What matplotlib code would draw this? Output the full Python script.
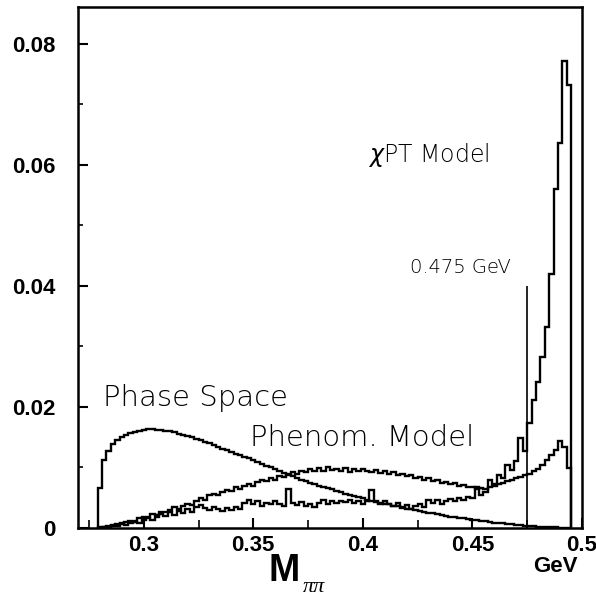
import numpy as np
import matplotlib
matplotlib.use("Agg")
import matplotlib.pyplot as plt
from matplotlib.ticker import MultipleLocator, FixedLocator, FixedFormatter

# ---------------- data (bin width 0.002 GeV, first bin starts at 0.279 GeV) ----------------
bin_start = 0.279
bin_width = 0.002

phase_space = [
    0.0066, 0.0112, 0.0128, 0.0138, 0.0145, 0.0150, 0.0154, 0.0157, 0.0159, 0.0161,
    0.0162, 0.0163, 0.0163, 0.0162, 0.0162, 0.0161, 0.0160, 0.0158, 0.0156, 0.0154,
    0.0152, 0.0150, 0.0147, 0.0145, 0.0142, 0.0140, 0.0137, 0.0134, 0.0131, 0.0129,
    0.0126, 0.0123, 0.0120, 0.0117, 0.0115, 0.0112, 0.0109, 0.0106, 0.0103, 0.0100,
    0.0097, 0.0094, 0.0091, 0.0088, 0.0086, 0.0083, 0.0080, 0.0078, 0.0075, 0.0073,
    0.0070, 0.0068, 0.0066, 0.0064, 0.0061, 0.0059, 0.0057, 0.0055, 0.0053, 0.0051,
    0.0049, 0.0047, 0.0045, 0.0044, 0.0042, 0.0040, 0.0039, 0.0037, 0.0036, 0.0034,
    0.0032, 0.0031, 0.0030, 0.0028, 0.0027, 0.0025, 0.0024, 0.0023, 0.0022, 0.0020,
    0.0019, 0.0018, 0.0017, 0.0016, 0.0015, 0.0014, 0.0013, 0.0012, 0.0011, 0.0010,
    0.0009, 0.0008, 0.0008, 0.0007, 0.0006, 0.0005, 0.0005, 0.0004, 0.0003, 0.0003,
    0.0002, 0.0002, 0.0001, 0.0001, 0.0001, 0.00005, 0.00003, 0.00001,
]

phenom_model = [
    0.0001, 0.0002, 0.0003, 0.0005, 0.0006, 0.0008, 0.0010, 0.0012, 0.0011, 0.0016,
    0.0019, 0.0018, 0.0023, 0.0021, 0.0027, 0.0026, 0.0030, 0.0034, 0.0031, 0.0037,
    0.0040, 0.0038, 0.0045, 0.0049, 0.0047, 0.0054, 0.0057, 0.0055, 0.0060, 0.0063,
    0.0061, 0.0067, 0.0065, 0.0070, 0.0073, 0.0069, 0.0076, 0.0079, 0.0077, 0.0083,
    0.0080, 0.0086, 0.0084, 0.0090, 0.0093, 0.0089, 0.0094, 0.0092, 0.0097, 0.0095,
    0.0099, 0.0094, 0.0101, 0.0096, 0.0098, 0.0095, 0.0099, 0.0093, 0.0097, 0.0094,
    0.0098, 0.0095, 0.0092, 0.0096, 0.0091, 0.0094, 0.0089, 0.0092, 0.0088, 0.0090,
    0.0086, 0.0088, 0.0083, 0.0085, 0.0080, 0.0082, 0.0077, 0.0079, 0.0074, 0.0076,
    0.0072, 0.0074, 0.0070, 0.0071, 0.0067, 0.0068, 0.0065, 0.0066, 0.0064, 0.0067,
    0.0070, 0.0072, 0.0075, 0.0077, 0.0080, 0.0082, 0.0085, 0.0087, 0.0090, 0.0094,
    0.0097, 0.0104, 0.0112, 0.0121, 0.0129, 0.0144, 0.0134, 0.0099,
]

chpt_model = [
    0.0000, 0.0001, 0.0002, 0.0003, 0.0004, 0.0006, 0.0005, 0.0008, 0.0010, 0.0009,
    0.0013, 0.0016, 0.0014, 0.0019, 0.0023, 0.0020, 0.0026, 0.0022, 0.0028, 0.0025,
    0.0031, 0.0027, 0.0034, 0.0038, 0.0033, 0.0029, 0.0035, 0.0031, 0.0028, 0.0033,
    0.0030, 0.0035, 0.0032, 0.0041, 0.0046, 0.0040, 0.0044, 0.0036, 0.0042, 0.0039,
    0.0045, 0.0040, 0.0037, 0.0064, 0.0041, 0.0038, 0.0043, 0.0036, 0.0040, 0.0035,
    0.0042, 0.0046, 0.0040, 0.0044, 0.0041, 0.0045, 0.0043, 0.0047, 0.0042, 0.0044,
    0.0040, 0.0045, 0.0062, 0.0043, 0.0039, 0.0044, 0.0040, 0.0037, 0.0042, 0.0033,
    0.0038, 0.0031, 0.0036, 0.0040, 0.0034, 0.0046, 0.0042, 0.0047, 0.0040, 0.0044,
    0.0048, 0.0045, 0.0050, 0.0047, 0.0052, 0.0049, 0.0068, 0.0055, 0.0060, 0.0080,
    0.0072, 0.0088, 0.0082, 0.0104, 0.0096, 0.0110, 0.0149, 0.0127, 0.0174, 0.0212,
    0.0241, 0.0283, 0.0332, 0.0420, 0.0560, 0.0636, 0.0772, 0.0732,
]

cut_value = 0.475
cut_height = 0.04

x_ticks = [0.3, 0.35, 0.4, 0.45, 0.5]
x_ticklabels = ["0.3", "0.35", "0.4", "0.45", "0.5"]
y_ticks = [0, 0.02, 0.04, 0.06, 0.08]
y_ticklabels = ["0", "0.02", "0.04", "0.06", "0.08"]

# ---------------- figure ----------------
fig = plt.figure(figsize=(5.96, 6.03), dpi=100)
ax = fig.add_axes([78 / 596, 75 / 603, 504 / 596, 521 / 603])

def edges_for(vals):
    return bin_start + bin_width * np.arange(len(vals) + 1)

lw = 1.7
ax.stairs(phase_space, edges_for(phase_space), baseline=0, color="black", lw=lw)
ax.stairs(phenom_model, edges_for(phenom_model), baseline=0, color="black", lw=lw)
ax.stairs(chpt_model, edges_for(chpt_model), baseline=0, color="black", lw=lw)
ax.vlines(cut_value, 0, cut_height, color="black", lw=1.2)

ax.set_xlim(0.27, 0.5)
ax.set_ylim(0, 0.0861)

for s in ax.spines.values():
    s.set_linewidth(1.8)

ax.xaxis.set_major_locator(FixedLocator(x_ticks))
ax.xaxis.set_major_formatter(FixedFormatter(x_ticklabels))
ax.xaxis.set_minor_locator(MultipleLocator(0.025))
ax.yaxis.set_major_locator(FixedLocator(y_ticks))
ax.yaxis.set_major_formatter(FixedFormatter(y_ticklabels))
ax.yaxis.set_minor_locator(MultipleLocator(0.01))

tick_font = dict(family="Liberation Sans", weight="bold", size=16)
ax.tick_params(axis="both", which="major", direction="in", length=7, width=1.5)
ax.tick_params(axis="x", which="minor", direction="in", length=6, width=1.2)
ax.tick_params(axis="y", which="minor", direction="in", length=3.5, width=1.2)
ax.tick_params(axis="y", which="major", pad=16)
ax.tick_params(axis="x", which="major", pad=5)
for lab in ax.get_xticklabels() + ax.get_yticklabels():
    lab.set_fontproperties(matplotlib.font_manager.FontProperties(**tick_font))

label_font = dict(family="DejaVu Sans", weight="light", color="black")
ax.text(0.4024, 0.0617, r"$\chi$PT Model", fontsize=17, va="center", ha="left", **label_font)
ax.text(0.4215, 0.0430, "0.475 GeV", fontsize=14, va="center", ha="left", **label_font)
ax.text(0.2814, 0.0215, "Phase Space", fontsize=21, va="center", ha="left", **label_font)
ax.text(0.3485, 0.0149, "Phenom. Model", fontsize=21, va="center", ha="left", **label_font)

fig.text(555 / 596, 1 - 567 / 603, "GeV", ha="center", va="center",
         family="Liberation Sans", weight="bold", fontsize=16)
fig.text(284 / 596, 1 - 571 / 603, "M", ha="center", va="center",
         family="Liberation Sans", weight="bold", fontsize=27)
fig.text(314 / 596, 1 - 587 / 603, "ππ", ha="center", va="center",
         family="Liberation Serif", style="italic", fontsize=16)

fig.savefig("out.png", dpi=100)
